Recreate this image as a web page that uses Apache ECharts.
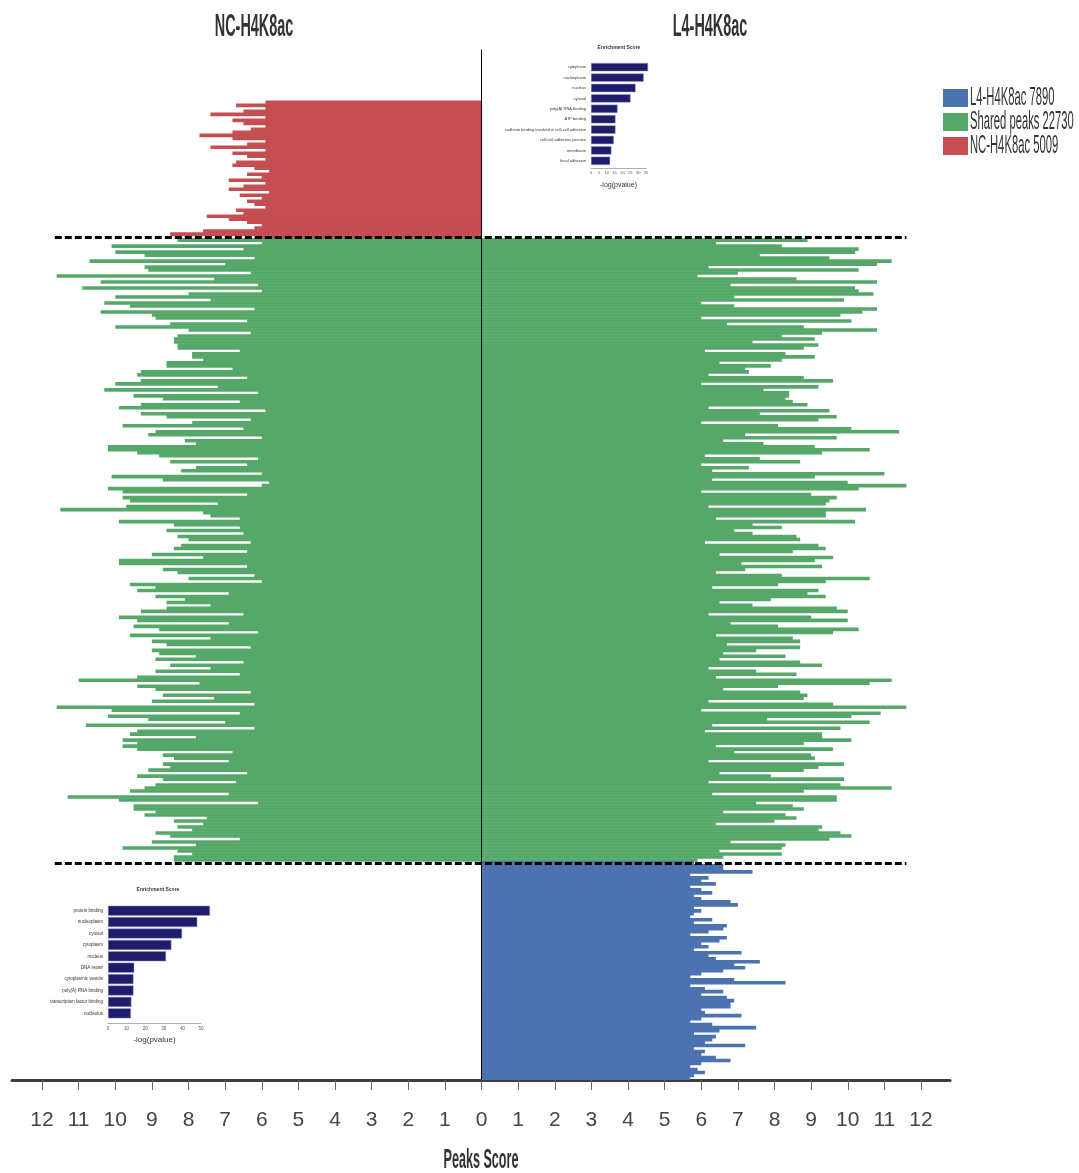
<!DOCTYPE html>
<html>
<head>
<meta charset="utf-8">
<title>H4K8ac peaks score</title>
<script src="https://cdn.jsdelivr.net/npm/echarts@6/dist/echarts.min.js"></script>
<style>
html, body { margin: 0; padding: 0; background: #fff; }
#main { width: 1079px; height: 1173px; }
</style>
</head>
<body>
<div id="main"></div>
<script>
// peak scores, one value per row, top to bottom
const blankRows = 17; // empty rows above the first peak

// NC-H4K8ac only peaks (left, red)
const ncOnly = [5.9, 6.7, 5.9, 6.5, 7.4, 5.9, 6.8, 6.5, 5.9, 6.3, 6.8, 7.7, 6.8, 5.9, 6.4, 7.4, 5.9, 6.8, 6.4, 5.9,
  6.7, 6.8, 6.2, 5.8, 6.4, 6.0, 6.9, 5.9, 6.5, 6.9, 5.8, 6.6, 6.0, 6.4, 6.2, 5.9, 6.7, 6.5, 7.5, 6.9,
  6.4, 6.0, 6.2, 7.6, 8.5, 6.2];

// shared peaks, NC-H4K8ac score (left, green)
const sharedNC = [8.3, 6.0, 10.1, 6.5, 10.0, 9.2, 6.2, 10.7, 7.0, 9.2, 9.1, 6.3, 11.6, 7.3, 10.4, 6.1, 10.9, 6.0, 8.0, 10.0,
  7.4, 10.3, 9.6, 6.2, 10.4, 9.0, 8.9, 6.4, 8.5, 10.0, 8.0, 6.3, 8.3, 8.4, 8.4, 8.3, 8.3, 6.6, 7.9, 7.9,
  7.6, 8.6, 8.6, 6.8, 9.3, 9.4, 6.4, 9.3, 10.0, 7.2, 10.3, 6.1, 9.5, 8.7, 6.6, 9.3, 9.9, 5.9, 9.3, 8.6,
  6.3, 7.9, 9.8, 6.5, 8.9, 9.1, 6.0, 8.1, 7.8, 10.2,
  10.2, 9.4, 8.8, 6.1, 8.5, 6.4, 7.8, 8.2, 6.0, 10.1, 8.7, 5.8, 6.0, 10.2, 9.8, 6.4, 9.8, 9.6, 7.2, 9.7,
  11.5, 7.6, 7.4, 6.6, 9.9, 8.4, 6.6, 8.6, 6.5, 8.3, 8.0, 6.3, 8.2, 8.4, 6.4, 9.0, 7.6, 9.9, 9.9, 6.4,
  8.7, 8.3, 6.2, 8.0, 6.0, 9.6, 8.9, 9.4, 6.9, 8.9, 8.1, 8.6, 7.4, 8.6, 9.3, 6.5, 9.9, 9.4, 6.9, 9.5,
  8.8, 6.1, 9.6, 7.4, 9.0, 8.6, 6.3, 9.0, 8.8, 7.8,
  8.9, 6.5, 8.5, 7.4, 8.9, 6.6, 9.4, 11.0, 7.7, 9.4, 8.9, 6.3, 8.7, 7.3, 9.0, 6.2, 11.6, 10.1, 6.6, 10.2,
  9.1, 7.0, 10.8, 6.2, 9.4, 9.6, 7.8, 9.8, 9.4, 9.8, 9.4, 6.8, 8.7, 8.4, 6.9, 8.7, 8.5, 9.1, 6.4, 9.4,
  8.7, 6.7, 8.9, 9.2, 9.6, 6.9, 11.3, 9.9, 6.1, 9.5, 9.5, 8.9, 9.2, 7.5, 8.4, 7.6, 8.3, 7.9, 8.9, 8.5,
  6.6, 9.0, 7.8, 9.8, 8.3, 7.9, 8.4, 8.4];

// shared peaks, L4-H4K8ac score (right, green)
const sharedL4 = [8.9, 6.4, 8.2, 10.3, 10.2, 7.6, 9.5, 11.2, 10.8, 6.2, 10.3, 7.0, 5.9, 8.6, 10.8, 6.8, 10.2, 10.3, 10.7, 6.9,
  9.9, 6.0, 6.9, 10.8, 10.4, 9.8, 6.0, 10.1, 6.7, 8.8, 10.8, 9.3, 8.2, 9.1, 7.4, 9.2, 8.8, 6.1, 8.3, 9.1,
  8.2, 6.5, 7.9, 7.2, 7.3, 6.2, 8.8, 9.6, 6.0, 9.2, 7.7, 8.4, 8.4, 8.3, 8.5, 8.9, 6.2, 9.5, 7.6, 9.7,
  9.2, 6.0, 8.1, 10.1, 11.4, 7.2, 9.7, 6.6, 7.7, 9.1,
  10.6, 9.3, 6.1, 7.6, 8.7, 6.0, 7.3, 6.3, 11.0, 9.1, 6.3, 10.0, 11.6, 10.3, 6.0, 9.0, 9.7, 9.5, 9.4, 6.2,
  10.5, 9.4, 9.4, 6.4, 10.2, 7.4, 8.2, 6.9, 7.4, 8.6, 8.7, 6.1, 9.2, 9.4, 8.5, 6.5, 9.6, 9.1, 7.1, 9.3,
  7.2, 6.4, 8.2, 10.6, 9.4, 8.1, 6.3, 9.2, 8.9, 9.4, 7.9, 6.5, 7.4, 9.7, 10.0, 6.2, 9.0, 10.0, 6.8, 8.1,
  10.3, 9.6, 6.4, 8.5, 8.7, 6.7, 8.7, 7.5, 6.6, 8.3,
  6.5, 8.7, 9.3, 6.2, 7.5, 8.6, 6.4, 11.2, 10.6, 8.1, 6.6, 8.7, 8.9, 8.8, 6.2, 9.6, 11.6, 6.0, 10.9, 10.1,
  7.8, 10.6, 6.3, 9.8, 6.1, 9.3, 9.3, 10.1, 8.8, 6.4, 9.6, 6.9, 9.0, 9.1, 6.2, 9.9, 9.2, 8.8, 6.5, 7.9,
  9.9, 6.2, 9.8, 11.2, 8.8, 6.3, 9.7, 9.7, 7.5, 8.5, 8.8, 6.6, 8.3, 8.6, 8.0, 6.4, 9.3, 9.2, 9.8, 10.1,
  9.5, 6.8, 8.3, 8.2, 6.5, 8.2, 6.6, 5.9];

// L4-H4K8ac only peaks (right, blue)
const l4Only = [5.8, 6.6, 6.6, 7.4, 5.7, 6.2, 6.0, 6.4, 5.7, 6.0, 6.3, 5.8, 6.0, 6.8, 7.0, 5.8, 6.0, 5.8, 5.7, 6.3,
  5.8, 6.7, 6.6, 6.2, 5.7, 6.7, 6.5, 6.0, 6.2, 5.8, 7.1, 6.2, 6.4, 7.6, 6.9, 7.2, 6.6, 6.0, 5.7, 6.9,
  8.3, 5.7, 6.1, 6.6, 6.0, 6.7, 6.9, 6.8, 6.8, 6.0, 6.1, 7.1, 6.0, 5.7, 6.3, 7.5, 6.5, 5.8, 6.4, 6.3,
  6.1, 7.2, 5.8, 6.1, 6.0, 6.4, 6.8, 6.0, 5.7, 5.9, 6.1, 5.8, 5.7];

// enrichment insets
const l4Terms = ['cytoplasm', 'nucleoplasm', 'nucleus', 'cytosol', 'poly(A) RNA binding', 'ATP binding',
  'cadherin binding involved in cell-cell adhesion', 'cell-cell adherens junction', 'membrane', 'focal adhesion'];
const l4Scores = [36.3, 33.5, 28.4, 25.2, 16.9, 15.6, 15.6, 14.5, 13.0, 12.2];
const ncTerms = ['protein binding', 'nucleoplasm', 'cytosol', 'cytoplasm', 'nucleus', 'DNA repair',
  'cytoplasmic vesicle', 'poly(A) RNA binding', 'transcription factor binding', 'nucleolus'];
const ncScores = [54.8, 48.0, 39.8, 34.1, 31.2, 14.1, 13.7, 13.7, 12.6, 12.3];

const legendNames = ['L4-H4K8ac 7890', 'Shared peaks 22730', 'NC-H4K8ac 5009'];

const RED = '#c44e52', GREEN = '#55a868', BLUE = '#4c72b0', NAVY = '#1d1d6c';
const SANS = "'Liberation Sans', Arial, sans-serif";

// rows of the butterfly
const nRows = blankRows + ncOnly.length + sharedNC.length + l4Only.length;
const rowNames = [];
for (let i = 0; i < nRows; i++) rowNames.push('r' + i);
const sharedStart = blankRows + ncOnly.length;
const l4Start = sharedStart + sharedNC.length;

function column(values, start, sign) {
  const out = new Array(nRows).fill(null);
  values.forEach((v, i) => { out[start + i] = sign * v; });
  return out;
}

function peakBar(name, data, color) {
  return {
    name: name,
    type: 'bar',
    data: data,
    barWidth: 3.6,
    barGap: '-100%',
    itemStyle: { color: color },
    silent: true
  };
}

// condensed-looking text, squeezed like the original figure
function squeezed(text, x, y, size, weight, align) {
  return {
    type: 'text', x: x, y: y, scaleX: 0.45, z: 20,
    style: {
      text: text, font: weight + ' ' + size + 'px ' + SANS, fill: '#333',
      align: align, verticalAlign: 'middle', textAlign: align, textVerticalAlign: 'middle'
    }
  };
}

function tiny(text, x, y) {
  return {
    type: 'text', x: x, y: y, z: 20,
    style: {
      text: text, font: 'bold 5px ' + SANS, fill: '#333',
      align: 'center', verticalAlign: 'middle', textAlign: 'center', textVerticalAlign: 'middle'
    }
  };
}

const dashed = {
  silent: true,
  symbol: 'none',
  label: { show: false },
  lineStyle: { type: [7, 3], width: 3, color: '#000' },
  data: [
    [{ coord: [-11.65, rowNames[sharedStart - 1]] }, { coord: [11.6, rowNames[sharedStart - 1]] }],
    [{ coord: [-11.65, rowNames[l4Start]] }, { coord: [11.6, rowNames[l4Start]] }]
  ]
};

const chart = echarts.init(document.getElementById('main'));

const option = {
  backgroundColor: '#fff',
  animation: false,
  legend: {
    data: legendNames,
    orient: 'vertical',
    left: 943,
    top: 89,
    padding: 0,
    icon: 'rect',
    itemWidth: 25,
    itemHeight: 18,
    itemGap: 6,
    formatter: () => ' ',
    textStyle: { fontSize: 12 },
    selectedMode: false
  },
  graphic: [
    squeezed('NC-H4K8ac', 254, 27, 32, 'bold', 'center'),
    squeezed('L4-H4K8ac', 710, 27, 32, 'bold', 'center'),
    squeezed('Peaks Score', 481, 1160, 28, 'bold', 'center'),
    squeezed(legendNames[0], 970, 98, 25, 'normal', 'left'),
    squeezed(legendNames[1], 970, 122, 25, 'normal', 'left'),
    squeezed(legendNames[2], 970, 146, 25, 'normal', 'left'),
    tiny('Enrichment Score', 619, 48),
    tiny('Enrichment Score', 158, 890)
  ],
  grid: [
    { left: 42, right: 158, top: 50, bottom: 93 },
    { left: 12, right: 129, top: 50, bottom: 93 },
    { left: 591, right: 433, top: 62, height: 104 },
    { left: 108, right: 878, top: 905, height: 114 }
  ],
  xAxis: [
    {
      gridIndex: 0, type: 'value', min: -12, max: 12, interval: 1,
      axisLine: { show: false },
      axisTick: { show: true, length: 10, lineStyle: { color: '#666' } },
      axisLabel: { margin: 30, fontSize: 21, fontFamily: SANS, color: '#444',
        formatter: v => String(Math.abs(v)) },
      splitLine: { show: false }
    },
    {
      gridIndex: 1, type: 'value', min: -1, max: 1,
      axisLine: { show: true, onZero: false, lineStyle: { color: '#3c3c3c', width: 3 } },
      axisTick: { show: false }, axisLabel: { show: false }, splitLine: { show: false }
    },
    {
      gridIndex: 2, type: 'value', min: 0, max: 35, interval: 5, offset: 2,
      axisLine: { show: true, lineStyle: { color: '#777', width: 0.6 } },
      axisTick: { length: 2, lineStyle: { color: '#777', width: 0.6 } },
      axisLabel: { fontSize: 4, margin: 3, color: '#555' },
      splitLine: { show: false },
      name: '-log(pvalue)', nameLocation: 'middle', nameGap: 14,
      nameTextStyle: { fontSize: 7, color: '#333' }
    },
    {
      gridIndex: 3, type: 'value', min: 0, max: 50, interval: 10, offset: 4,
      axisLine: { show: true, lineStyle: { color: '#777', width: 0.6 } },
      axisTick: { length: 2, lineStyle: { color: '#777', width: 0.6 } },
      axisLabel: { fontSize: 4.5, margin: 3, color: '#555' },
      splitLine: { show: false },
      name: '-log(pvalue)', nameLocation: 'middle', nameGap: 13,
      nameTextStyle: { fontSize: 8, color: '#333' }
    }
  ],
  yAxis: [
    {
      gridIndex: 0, type: 'category', inverse: true, data: rowNames, z: 10,
      axisLine: { show: true, onZero: true, lineStyle: { color: '#000', width: 1 } },
      axisTick: { show: false }, axisLabel: { show: false }, splitLine: { show: false }
    },
    { gridIndex: 1, type: 'value', show: false },
    {
      gridIndex: 2, type: 'category', inverse: true, data: l4Terms,
      axisLine: { show: false }, axisTick: { show: false },
      axisLabel: { fontSize: 4, margin: 5, color: '#333' }
    },
    {
      gridIndex: 3, type: 'category', inverse: true, data: ncTerms,
      axisLine: { show: false }, axisTick: { show: false },
      axisLabel: { fontSize: 4.5, margin: 5, color: '#333' }
    }
  ],
  series: [
    peakBar(legendNames[2], column(ncOnly, blankRows, -1), RED),
    peakBar(legendNames[1], column(sharedNC, sharedStart, -1), GREEN),
    Object.assign(peakBar(legendNames[1], column(sharedL4, sharedStart, 1), GREEN), { markLine: dashed }),
    peakBar(legendNames[0], column(l4Only, l4Start, 1), BLUE),
    {
      type: 'bar', xAxisIndex: 2, yAxisIndex: 2, data: l4Scores, clip: false,
      barCategoryGap: '20%', silent: true,
      itemStyle: { color: NAVY, borderColor: '#9a9ac0', borderWidth: 0.5 }
    },
    {
      type: 'bar', xAxisIndex: 3, yAxisIndex: 3, data: ncScores, clip: false,
      barCategoryGap: '12%', silent: true,
      itemStyle: { color: NAVY, borderColor: '#9a9ac0', borderWidth: 0.5 }
    }
  ]
};

chart.setOption(option);
</script>
</body>
</html>
